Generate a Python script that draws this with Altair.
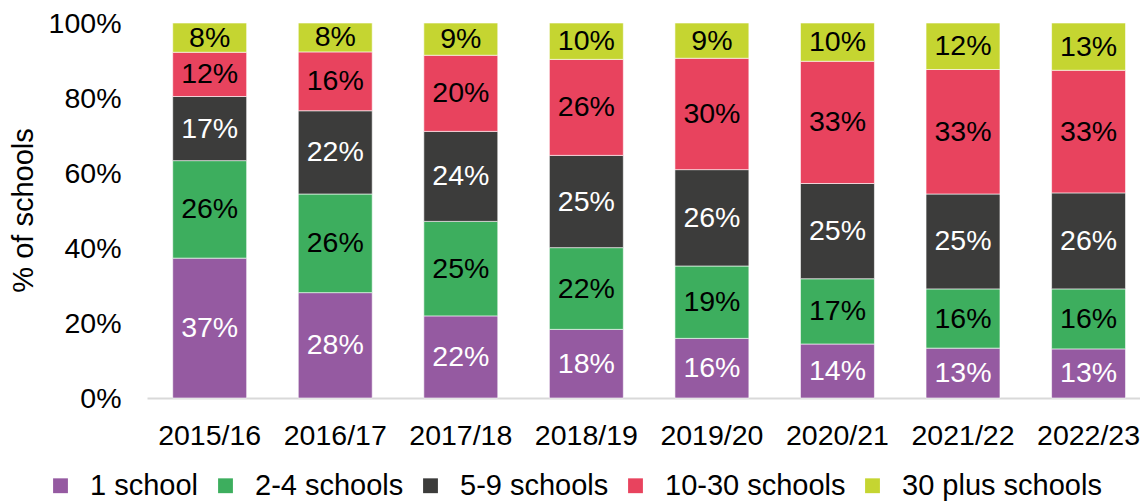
import altair as alt
import pandas as pd

years = ["2015/16", "2016/17", "2017/18", "2018/19", "2019/20", "2020/21", "2021/22", "2022/23"]
series = ["1 school", "2-4 schools", "5-9 schools", "10-30 schools", "30 plus schools"]
colors = ["#955AA1", "#3DAE5E", "#3C3C3B", "#E8435E", "#C5D531"]
label_colors = ["#ffffff", "#000000", "#ffffff", "#000000", "#000000"]

one_school = [37.3, 28.1, 21.9, 18.3, 15.9, 14.4, 13.3, 13.1]
two_four = [26.0, 26.3, 25.2, 21.8, 19.3, 17.4, 15.8, 16.0]
five_nine = [17.1, 22.2, 24.0, 24.6, 25.7, 25.4, 25.3, 25.6]
ten_thirty = [11.8, 15.7, 20.3, 25.6, 29.7, 32.6, 33.2, 32.7]
thirty_plus = [7.8, 7.7, 8.6, 9.7, 9.4, 10.2, 12.4, 12.6]

values = [one_school, two_four, five_nine, ten_thirty, thirty_plus]
rows = []
for si, (name, vals) in enumerate(zip(series, values)):
    for y, v in zip(years, vals):
        rows.append({"year": y, "series": name, "v": v, "order": si, "tc": label_colors[si]})
df = pd.DataFrame(rows)

FONT = "Liberation Sans"
FS = 28.5

base = alt.Chart(df).transform_stack(
    stack="v", as_=["v0", "v1"], groupby=["year"], sort=[alt.SortField("order", order="ascending")]
).transform_calculate(
    mid="(datum.v0 + datum.v1) / 2",
    label="format(datum.v, '.0f') + '%'",
)

xenc = alt.X(
    "year:N",
    sort=years,
    scale=alt.Scale(paddingInner=0.411, paddingOuter=0.16, align=0.64),
    axis=alt.Axis(
        title=None, labelAngle=0, ticks=False, domainColor="#d9d9d9", domainWidth=2,
        labelPadding=23, labelFontSize=FS, labelFont=FONT, labelColor="#000000",
    ),
)

bars = base.mark_bar(stroke="#ffffff", strokeWidth=0.6).encode(
    x=xenc,
    y=alt.Y(
        "v0:Q",
        scale=alt.Scale(domain=[0, 100], nice=False),
        axis=alt.Axis(
            title="% of schools", values=[0, 20, 40, 60, 80, 100],
            labelExpr="datum.value + '%'", domain=False, ticks=False, grid=False,
            labelPadding=26, labelFontSize=FS, labelFont=FONT, labelColor="#000000",
            titleFontSize=29, titleFont=FONT, titleFontWeight="normal", titleColor="#000000",
            titleX=-124, titleY=187, titleAlign="center", titleBaseline="middle", titleAngle=270,
        ),
    ),
    y2="v1:Q",
    color=alt.Color(
        "series:N",
        sort=series,
        scale=alt.Scale(domain=series, range=colors),
        legend=alt.Legend(
            title=None, orient="none", direction="horizontal", legendX=-101, legendY=448,
            symbolType="square", symbolSize=220, symbolStrokeWidth=0,
            labelFontSize=29, labelFont=FONT, labelColor="#000000", labelOffset=15,
            columnPadding=12, labelLimit=400, padding=0,
        ),
    ),
    order=alt.Order("order:Q"),
)

text = base.mark_text(fontSize=FS, font=FONT, baseline="middle", align="center").encode(
    x=alt.X("year:N", sort=years),
    y=alt.Y("mid:Q"),
    text="label:N",
    color=alt.Color("tc:N", scale=None),
)

chart = alt.layer(bars, text).properties(
    width=993,
    height=375,
    autosize=alt.AutoSizeParams(type="none"),
    padding={"left": 139, "top": 15, "right": 0, "bottom": 105},
).configure_view(stroke=None)

chart.save("out.html", embed_options={"renderer": "svg", "actions": False})
